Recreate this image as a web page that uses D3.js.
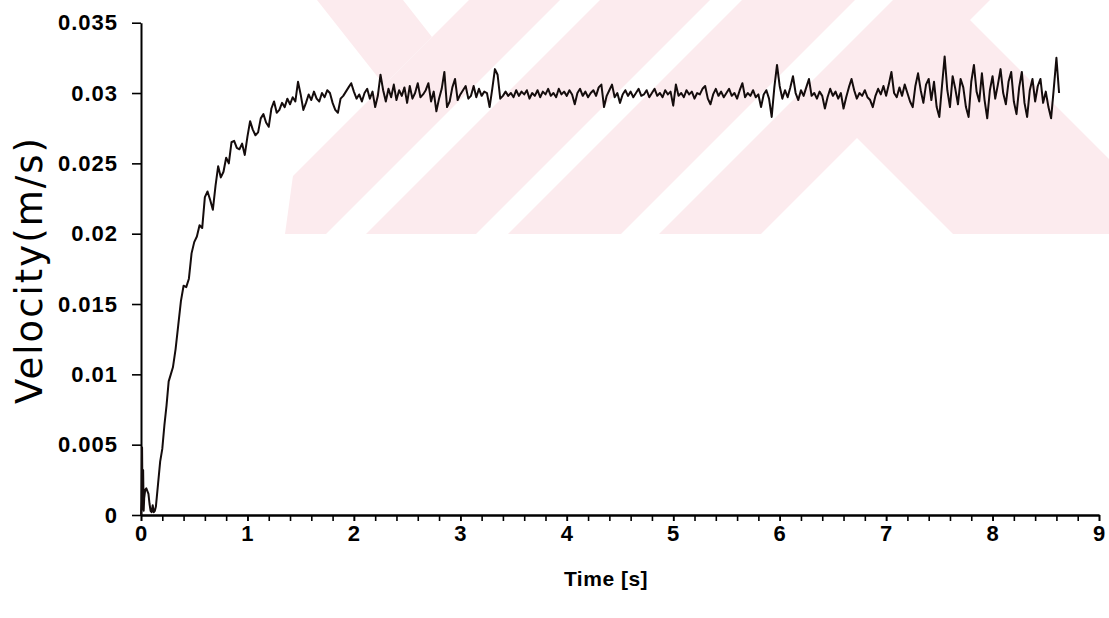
<!DOCTYPE html>
<html><head><meta charset="utf-8">
<script src="https://cdn.jsdelivr.net/npm/d3@7"></script>
<style>html,body{margin:0;padding:0;background:#fff;} svg{display:block;}</style>
</head><body>
<svg id="chart" width="1109" height="618"></svg>
<script>
// ---- data ----
const xTickValues = [0, 1, 2, 3, 4, 5, 6, 7, 8, 9];
const xTickLabels = ["0", "1", "2", "3", "4", "5", "6", "7", "8", "9"];
const yTickValues = [0, 0.005, 0.01, 0.015, 0.02, 0.025, 0.03, 0.035];
const yTickLabels = ["0", "0.005", "0.01", "0.015", "0.02", "0.025", "0.03", "0.035"];

// start-up transient (time in s, velocity in mm/s)
const earlyTime = [0, 0.005, 0.01, 0.015, 0.02, 0.025, 0.03, 0.04, 0.05, 0.06, 0.07, 0.08, 0.09, 0.1, 0.11, 0.12, 0.13, 0.14, 0.16, 0.18, 0.2, 0.22, 0.24, 0.26, 0.28];
const earlyVelocity = [0, 1.0, 4.8, 0.4, 3.2, 0.3, 1.2, 1.8, 1.9, 1.7, 1.5, 0.8, 0.3, 0.2, 0.7, 0.2, 0.3, 0.6, 2.2, 3.8, 4.7, 6.4, 7.8, 9.5, 10.0];

// sampled record from t = 0.3 s every 0.025 s (velocity in mm/s)
const sampleStart = 0.3;
const sampleStep = 0.025;
const sampledVelocity = [
  10.5, 11.8, 13.5, 15.2, 16.3, 16.2, 16.8, 18.6, 19.4, 19.8,
  20.6, 20.4, 22.6, 23.0, 22.4, 21.7, 23.4, 24.8, 24.0, 24.4,
  25.4, 25.0, 26.5, 26.6, 26.1, 26.0, 26.4, 25.6, 26.9, 28.0,
  27.4, 27.0, 27.2, 28.2, 28.5, 27.9, 27.6, 28.9, 29.4, 28.6,
  28.8, 29.3, 29.0, 29.6, 29.2, 29.7, 29.4, 30.8, 29.9, 28.8,
  29.3, 29.9, 29.5, 30.1, 29.6, 29.4, 30.0, 29.7, 30.2, 30.0,
  29.3, 28.8, 28.6, 29.6, 29.8, 30.1, 30.4, 30.7, 30.1, 29.6,
  29.9, 29.4, 30.0, 30.3, 29.6, 30.1, 29.0, 29.8, 31.3, 30.2,
  29.4, 30.3, 29.7, 30.6, 29.5, 30.2, 29.8, 30.4, 29.3, 30.5,
  29.6, 30.0, 30.7, 29.7, 29.9, 30.2, 30.7, 29.4, 30.1, 28.7,
  29.6, 30.3, 31.5, 29.0, 29.4, 30.4, 31.0, 29.5, 29.9, 30.2,
  30.5, 29.6, 29.8, 30.5, 29.7, 30.3, 29.8, 30.1, 30.0, 29.0,
  30.3, 31.7, 31.3, 29.6, 29.8, 30.1, 29.8, 30.0, 29.7, 30.2,
  29.8, 30.1, 29.9, 30.2, 29.6, 30.0, 29.8, 30.2, 29.7, 30.1,
  29.9, 30.3, 29.8, 30.0, 29.7, 30.3, 29.9, 30.1, 29.8, 30.2,
  29.9, 29.2, 30.0, 30.3, 29.8, 30.1, 29.7, 30.0, 30.2, 29.8,
  30.4, 30.6, 29.0, 29.8, 30.2, 30.6, 29.7, 30.0, 29.3, 29.9,
  30.2, 29.8, 30.1, 29.7, 30.0, 30.3, 29.8, 29.9, 30.2, 29.7,
  30.0, 30.3, 29.8, 30.0, 29.7, 30.2, 29.9, 30.1, 29.1, 30.6,
  29.8, 30.0, 29.7, 30.2, 29.9, 30.1, 29.6, 30.0, 29.9, 30.3,
  30.5, 29.6, 29.2, 29.9, 30.3, 29.8, 30.1, 29.7, 30.0, 30.3,
  29.8, 30.0, 29.6, 30.2, 30.7, 29.7, 30.0, 29.8, 30.2, 29.7,
  29.9, 29.0, 29.9, 30.2, 29.6, 28.3, 30.4, 32.0, 30.5, 29.6,
  30.2, 29.7, 30.4, 31.2, 30.0, 29.5, 30.2, 29.8, 30.4, 31.0,
  29.8, 30.0, 29.6, 30.1, 29.8, 28.9, 29.7, 30.3, 29.8, 30.1,
  29.6, 30.0, 28.9, 29.7, 30.4, 31.0, 30.2, 29.6, 30.0, 29.8,
  30.2, 29.7, 29.5, 29.0, 29.8, 30.3, 29.9, 30.5, 29.8, 30.6,
  31.5, 30.0, 29.7, 30.4, 29.8, 30.6, 30.0, 29.4, 29.0, 30.5,
  31.4, 30.2, 29.3, 30.6, 31.0, 29.5, 30.8, 29.0, 28.3, 30.5,
  32.6, 30.2, 29.0, 31.2, 30.3, 29.2, 31.0, 30.4, 29.0, 28.3,
  30.8, 32.0, 30.1, 29.4, 31.4, 29.5, 28.2, 30.2, 31.2, 29.6,
  30.6, 31.7, 30.0, 29.2, 30.8, 31.5, 29.4, 28.5, 30.4, 31.5,
  29.3, 28.3, 30.2, 31.0, 29.4, 30.5, 31.0, 29.3, 30.1, 29.0,
  28.2, 30.3, 32.5, 30.0
];

const series = earlyTime.map((t, i) => ({ t: t, v: earlyVelocity[i] / 1000 }))
  .concat(sampledVelocity.map((v, i) => ({ t: sampleStart + i * sampleStep, v: v / 1000 })));

// ---- layout ----
const svg = d3.select("#chart");
const x = d3.scaleLinear().domain([0, 9]).range([141, 1099]);
const y = d3.scaleLinear().domain([0, 0.035]).range([515, 22.7]);

// ---- faint background watermark (decoration) ----
const defs = svg.append("defs");
defs.append("clipPath").attr("id", "wmclip").append("polygon")
  .attr("points", [[317, 0], [1109, 0], [1109, 234], [285, 234]].join(" "));
const wmg = svg.append("g").attr("clip-path", "url(#wmclip)");
const pink = "#fcebee";
const H = 234;
const slashBands = [[469, 560], [600, 710], [742, 855], [893, 1500]];
slashBands.forEach(b => {
  wmg.append("polygon").attr("fill", pink)
    .attr("points", [[b[0], 0], [b[1], 0], [b[1] - H, H], [b[0] - H, H]].join(" "));
});
wmg.append("polygon").attr("fill", pink)
  .attr("points", [[317, 0], [403, 0], [432, 37], [384, 85]].join(" "));
wmg.append("polygon").attr("fill", "#fff")
  .attr("points", [[857, 138], [953, 234], [761, 234]].join(" "));
wmg.append("polygon").attr("fill", "#fff")
  .attr("points", [[970, 20], [990, 0], [1109, 0], [1109, 159]].join(" "));

// ---- axes ----
const font = "'Liberation Sans', Arial, sans-serif";

const yAxis = d3.axisLeft(y).tickValues(yTickValues)
  .tickFormat((d, i) => yTickLabels[i]).tickSize(9).tickPadding(14).tickSizeOuter(0);
const gy = svg.append("g").attr("transform", "translate(141,0)").call(yAxis);

const xMinor = d3.axisBottom(x).tickValues(d3.range(0, 45.5, 1).map(k => k * 0.2))
  .tickFormat("").tickSize(6).tickSizeOuter(0);
const gxm = svg.append("g").attr("transform", "translate(0,515)").call(xMinor);

const xAxis = d3.axisBottom(x).tickValues(xTickValues)
  .tickFormat((d, i) => xTickLabels[i]).tickSize(6).tickPadding(4).tickSizeOuter(0);
const gx = svg.append("g").attr("transform", "translate(0,515)").call(xAxis);

[gy, gx, gxm].forEach(g => {
  g.select(".domain").attr("stroke", "#000").attr("stroke-width", 2);
  g.selectAll(".tick line").attr("stroke", "#000").attr("stroke-width", 1.6);
  g.selectAll(".tick text").attr("fill", "#000")
    .style("font-family", font).style("font-weight", "bold")
    .style("font-size", "22px").style("letter-spacing", "1px");
});

// ---- line ----
const line = d3.line().x(d => x(d.t)).y(d => y(d.v));
svg.append("path").datum(series)
  .attr("fill", "none").attr("stroke", "#140c0c").attr("stroke-width", 2)
  .attr("stroke-linejoin", "round").attr("d", line);

// ---- titles ----
svg.append("text").text("Time [s]")
  .attr("x", 606).attr("y", 586).attr("text-anchor", "middle")
  .style("font-family", font).style("font-weight", "bold").style("font-size", "21px")
  .style("letter-spacing", "0.5px").attr("fill", "#000");

svg.append("text").text("Velocity(m/s)")
  .attr("transform", "translate(42,270) rotate(-90)").attr("text-anchor", "middle")
  .style("font-family", "'DejaVu Sans', sans-serif").style("font-size", "37px")
  .style("letter-spacing", "2px").attr("fill", "#000");
</script>
</body></html>
